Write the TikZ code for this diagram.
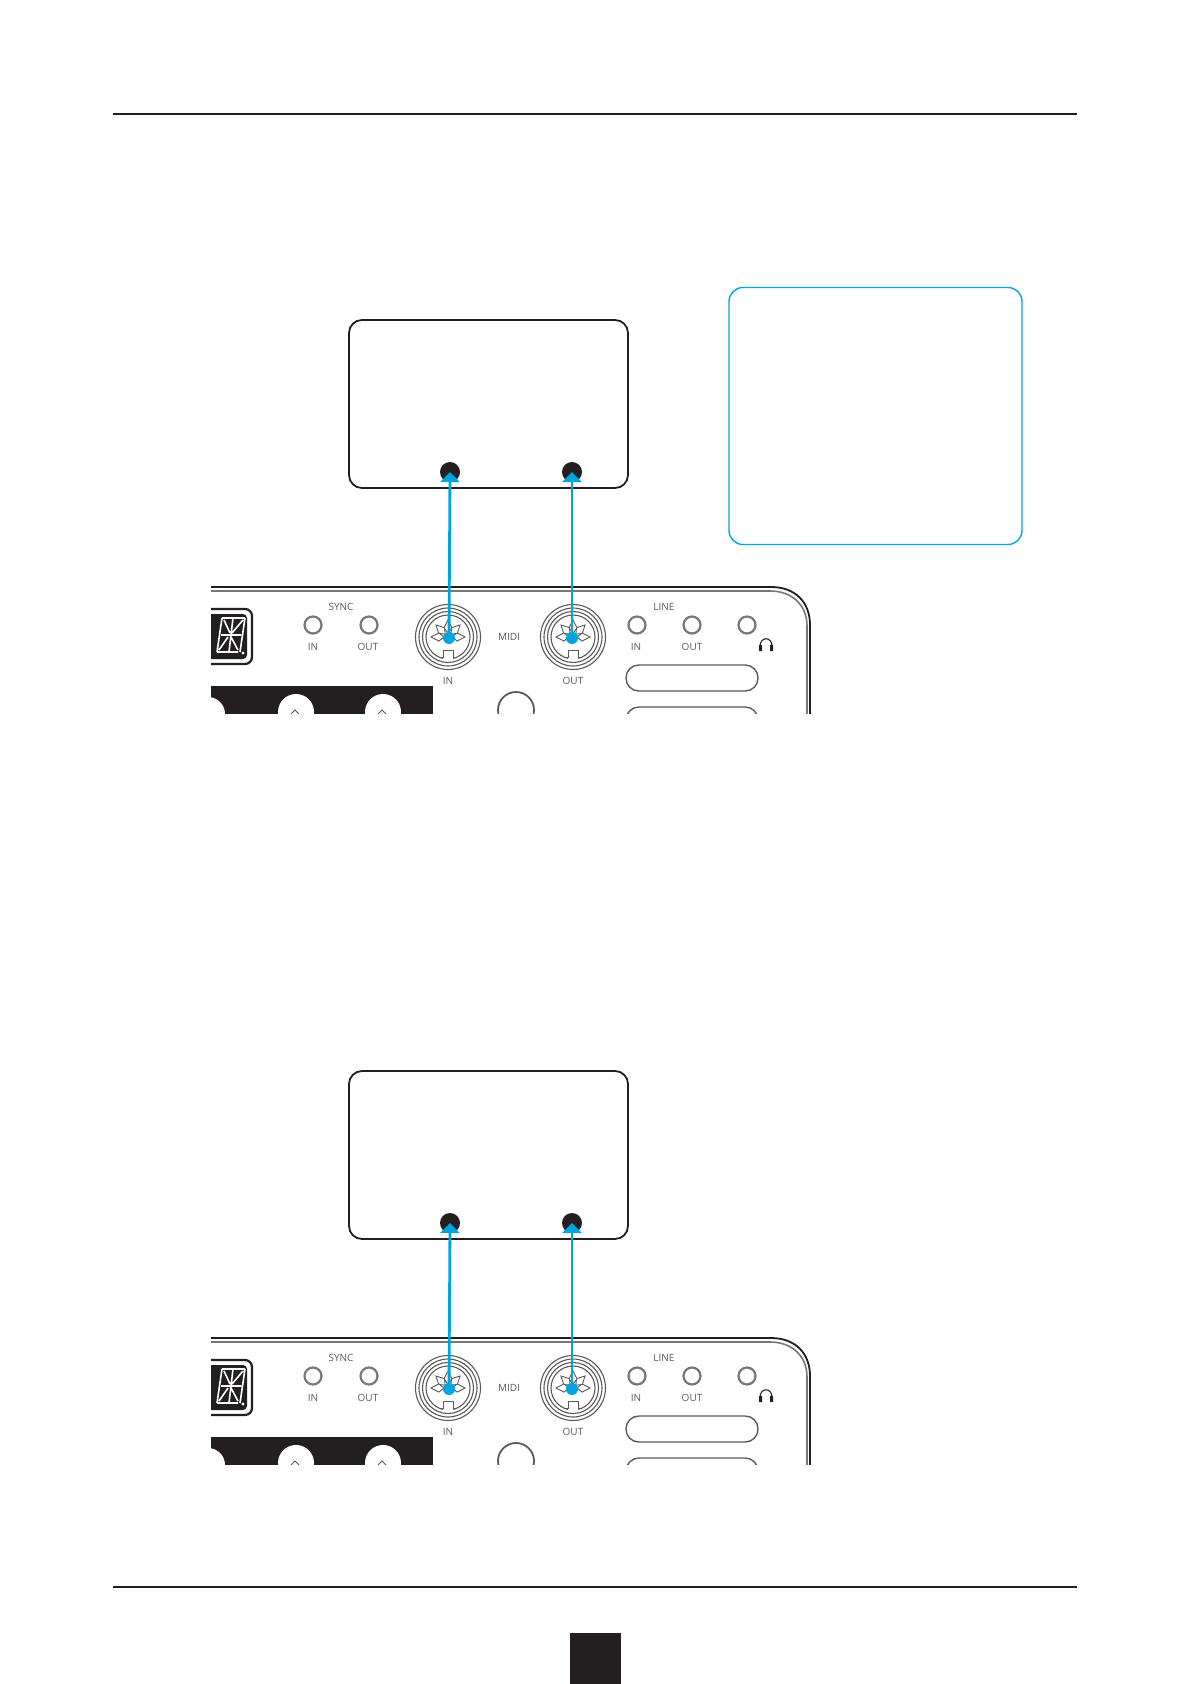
\documentclass[tikz,border=0pt]{standalone}
\usepackage{fontspec}
\setmainfont{Open Sans}
\usetikzlibrary{arrows.meta}
\definecolor{inkk}{HTML}{231F20}
\definecolor{skyb}{HTML}{00A5E0}
\definecolor{panelg}{HTML}{5A5A5A}
\definecolor{panell}{HTML}{777777}
\tikzset{
  x=0.5pt,y=-0.5pt,
  rulel/.style={draw=inkk,line width=0.55pt},
  devbox/.style={draw=inkk,line width=0.9pt,rounded corners=6.5pt,minimum width=139.5pt,minimum height=84pt,inner sep=0pt},
  infobox/.style={draw=skyb,line width=0.7pt,rounded corners=7pt,minimum width=146.5pt,minimum height=128.5pt,inner sep=0pt},
  devjack/.style={circle,fill=inkk,minimum size=10pt,inner sep=0pt},
  conndot/.style={circle,fill=skyb,minimum size=6pt,inner sep=0pt},
  conn/.style={draw=skyb,line width=1.4pt,-{Triangle[width=9.5pt,length=5pt,fill=skyb]}},
  paneltxt/.style={text=panelg,font=\fontsize{5}{6}\selectfont,inner sep=0pt},
  minijack/.style={circle,draw=panell,line width=1.1pt,fill=white,minimum size=8.5pt,inner sep=0pt},
  din/.style={circle,draw=panelg,line width=0.55pt,fill=white,inner sep=0pt},
  pill/.style={draw=panelg,line width=0.7pt,rounded corners=6.4pt,fill=white},
  seg/.style={draw=white,line width=0.8pt}
}
\newcommand{\dinparts}[2]{%
  \node[din,minimum size=32.5pt] at (#1,#2) {};
  \node[din,minimum size=29pt] at (#1,#2) {};
  \node[din,minimum size=25.5pt] at (#1,#2) {};
  \node[din,minimum size=22pt] at (#1,#2) {};
  \begin{scope}[shift={(#1,#2)}]
    \foreach \a in {0,-45,-90,-135,180} {
      \draw[panelg,line width=0.45pt,fill=white] (\a:4) -- (\a-24:10) -- (\a:17) -- (\a+24:10) -- cycle;
    }
    \draw[white,line width=1pt] (-5,21.5) -- (5,21.5);
    \draw[panelg,line width=0.5pt] (-9,20) -- (-5,20) -- (-5,13) -- (5,13) -- (5,20) -- (9,20);
  \end{scope}
}
\newcommand{\midiset}[2]{%
  \begin{scope}[shift={(0,#2)}]
    \node[devbox] (#1box) at (488.5,404) {};
    \node[devjack] (#1jin) at (450,472) {};
    \node[devjack] (#1jout) at (572,472) {};
    \begin{scope}
      \clip (211,580) rectangle (815,713);
      \draw[inkk,line width=0.9pt] (205,587) -- (771,587) .. controls (795,587) and (810,602) .. (810,625) -- (810,720);
      \draw[panell,line width=0.8pt] (205,591) -- (770,591) .. controls (792,591) and (807,605) .. (807,626) -- (807,720);
      % display
      \draw[inkk,line width=1.1pt,rounded corners=3.5pt,fill=white] (200,609) -- (252,609) -- (252,664) -- (200,664) -- cycle;
      \fill[inkk,rounded corners=2pt] (200,614) -- (247,614) -- (247,659) -- (200,659) -- cycle;
      \draw[seg] (222,618) -- (245,618) (221,635) -- (241,635) (217,652) -- (238,652)
        (222,618) -- (217,652) (233,618) -- (229,652) (245,618) -- (240,652)
        (224,620) -- (230,633) (243,620) -- (232,633) (219,650) -- (228,637) (238,650) -- (231,637);
      \fill[white] (243,653) circle (1.7);
      % lower black panel
      \fill[inkk] (205,686) rectangle (433,720);
      \fill[white] (208,714) circle (17);
      \fill[white] (296,712) circle (18);
      \fill[white] (383,712) circle (18);
      \draw[panelg,line width=0.5pt] (291,714) -- (295,710) -- (299,714) (378,714) -- (382,710) -- (386,714);
      \draw[panelg,line width=0.9pt,fill=white] (516,710) circle (18);
      \draw[pill] (626,707) -- (758,707) -- (758,740) -- (626,740) -- cycle;
    \end{scope}
    \node[minijack] (#1si) at (313,625) {};
    \node[minijack] (#1so) at (369,625) {};
    \node[minijack] (#1li) at (637,625) {};
    \node[minijack] (#1lo) at (692,625) {};
    \node[minijack] (#1hp) at (747,625) {};
    \node[paneltxt] (#1tsync) at (341,607) {SYNC};
    \node[paneltxt] (#1tsi) at (313,647) {IN};
    \node[paneltxt] (#1tso) at (368,647) {OUT};
    \node[paneltxt] (#1tmidi) at (509,636.5) {MIDI};
    \node[paneltxt] (#1tmi) at (448,681) {IN};
    \node[paneltxt] (#1tmo) at (573,681) {OUT};
    \node[paneltxt] (#1tline) at (664,606.5) {LINE};
    \node[paneltxt] (#1tli) at (636,647) {IN};
    \node[paneltxt] (#1tlo) at (692,647) {OUT};
    \dinparts{448}{637}
    \dinparts{573}{637}
    \draw[pill] (626,665) -- (758,665) -- (758,691) -- (626,691) -- cycle;
    % headphones
    \draw[inkk,line width=0.55pt] (760,647) .. controls (759.5,636) and (772.5,636) .. (772,647);
    \fill[inkk] (759,645) rectangle (762,651) (770,645) rectangle (773,651);
    % connectors
    \node[conndot] (#1din) at (449,638) {};
    \node[conndot] (#1dout) at (572,638) {};
    \draw[conn] (#1din.center) -- (#1jin.center);
    \draw[conn] (#1dout.center) -- (#1jout.center);
  \end{scope}
}
\begin{document}
\begin{tikzpicture}
  \path[use as bounding box,fill=white] (0,0) rectangle (1191,1684);
  \draw[rulel] (113,114) -- (1077,114);
  \draw[rulel] (113,1587) -- (1077,1587);
  \fill[inkk] (570,1633) rectangle (621,1684);
  \node[infobox] (info) at (875.5,416) {};
  \midiset{a}{0}
  \midiset{b}{751}
\end{tikzpicture}
\end{document}
